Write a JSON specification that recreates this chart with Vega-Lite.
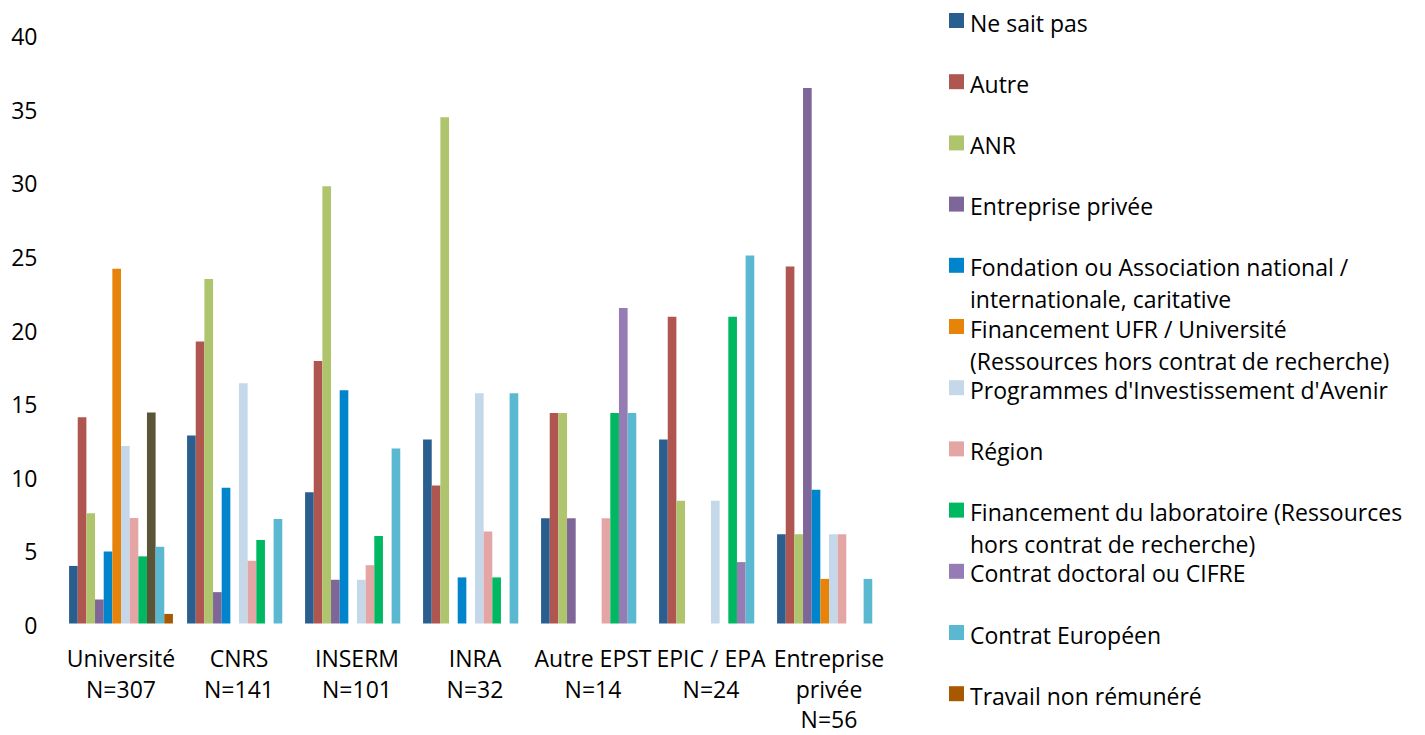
{
  "$schema": "https://vega.github.io/schema/vega-lite/v6.json",
  "width": 826,
  "height": 589,
  "autosize": {"type": "none"},
  "padding": {"left": 62, "top": 34.5, "right": 537, "bottom": 111.5},
  "background": "white",
  "config": {"view": {"stroke": null}, "font": "Open Sans"},
  "data": {
    "values": [
      {"cat": "Université N=307", "series": "Ne sait pas", "value": 3.91},
      {"cat": "Université N=307", "series": "Autre", "value": 14.01},
      {"cat": "Université N=307", "series": "ANR", "value": 7.49},
      {"cat": "Université N=307", "series": "Entreprise privée", "value": 1.63},
      {"cat": "Université N=307", "series": "Fondation ou Association national / internationale, caritative", "value": 4.89},
      {"cat": "Université N=307", "series": "Financement UFR / Université (Ressources hors contrat de recherche)", "value": 24.1},
      {"cat": "Université N=307", "series": "Programmes d'Investissement d'Avenir", "value": 12.05},
      {"cat": "Université N=307", "series": "Région", "value": 7.17},
      {"cat": "Université N=307", "series": "Financement du laboratoire (Ressources hors contrat de recherche)", "value": 4.56},
      {"cat": "Université N=307", "series": "Contrat doctoral ou CIFRE", "value": 14.33},
      {"cat": "Université N=307", "series": "Contrat Européen", "value": 5.21},
      {"cat": "Université N=307", "series": "Travail non rémunéré", "value": 0.65},
      {"cat": "CNRS N=141", "series": "Ne sait pas", "value": 12.77},
      {"cat": "CNRS N=141", "series": "Autre", "value": 19.15},
      {"cat": "CNRS N=141", "series": "ANR", "value": 23.4},
      {"cat": "CNRS N=141", "series": "Entreprise privée", "value": 2.13},
      {"cat": "CNRS N=141", "series": "Fondation ou Association national / internationale, caritative", "value": 9.22},
      {"cat": "CNRS N=141", "series": "Programmes d'Investissement d'Avenir", "value": 16.31},
      {"cat": "CNRS N=141", "series": "Région", "value": 4.26},
      {"cat": "CNRS N=141", "series": "Financement du laboratoire (Ressources hors contrat de recherche)", "value": 5.67},
      {"cat": "CNRS N=141", "series": "Contrat Européen", "value": 7.09},
      {"cat": "INSERM N=101", "series": "Ne sait pas", "value": 8.91},
      {"cat": "INSERM N=101", "series": "Autre", "value": 17.82},
      {"cat": "INSERM N=101", "series": "ANR", "value": 29.7},
      {"cat": "INSERM N=101", "series": "Entreprise privée", "value": 2.97},
      {"cat": "INSERM N=101", "series": "Fondation ou Association national / internationale, caritative", "value": 15.84},
      {"cat": "INSERM N=101", "series": "Programmes d'Investissement d'Avenir", "value": 2.97},
      {"cat": "INSERM N=101", "series": "Région", "value": 3.96},
      {"cat": "INSERM N=101", "series": "Financement du laboratoire (Ressources hors contrat de recherche)", "value": 5.94},
      {"cat": "INSERM N=101", "series": "Contrat Européen", "value": 11.88},
      {"cat": "INRA N=32", "series": "Ne sait pas", "value": 12.5},
      {"cat": "INRA N=32", "series": "Autre", "value": 9.38},
      {"cat": "INRA N=32", "series": "ANR", "value": 34.38},
      {"cat": "INRA N=32", "series": "Fondation ou Association national / internationale, caritative", "value": 3.13},
      {"cat": "INRA N=32", "series": "Programmes d'Investissement d'Avenir", "value": 15.63},
      {"cat": "INRA N=32", "series": "Région", "value": 6.25},
      {"cat": "INRA N=32", "series": "Financement du laboratoire (Ressources hors contrat de recherche)", "value": 3.13},
      {"cat": "INRA N=32", "series": "Contrat Européen", "value": 15.63},
      {"cat": "Autre EPST N=14", "series": "Ne sait pas", "value": 7.14},
      {"cat": "Autre EPST N=14", "series": "Autre", "value": 14.29},
      {"cat": "Autre EPST N=14", "series": "ANR", "value": 14.29},
      {"cat": "Autre EPST N=14", "series": "Entreprise privée", "value": 7.14},
      {"cat": "Autre EPST N=14", "series": "Région", "value": 7.14},
      {"cat": "Autre EPST N=14", "series": "Financement du laboratoire (Ressources hors contrat de recherche)", "value": 14.29},
      {"cat": "Autre EPST N=14", "series": "Contrat doctoral ou CIFRE", "value": 21.43},
      {"cat": "Autre EPST N=14", "series": "Contrat Européen", "value": 14.29},
      {"cat": "EPIC / EPA N=24", "series": "Ne sait pas", "value": 12.5},
      {"cat": "EPIC / EPA N=24", "series": "Autre", "value": 20.83},
      {"cat": "EPIC / EPA N=24", "series": "ANR", "value": 8.33},
      {"cat": "EPIC / EPA N=24", "series": "Programmes d'Investissement d'Avenir", "value": 8.33},
      {"cat": "EPIC / EPA N=24", "series": "Financement du laboratoire (Ressources hors contrat de recherche)", "value": 20.83},
      {"cat": "EPIC / EPA N=24", "series": "Contrat doctoral ou CIFRE", "value": 4.17},
      {"cat": "EPIC / EPA N=24", "series": "Contrat Européen", "value": 25.0},
      {"cat": "Entreprise privée N=56", "series": "Ne sait pas", "value": 6.06},
      {"cat": "Entreprise privée N=56", "series": "Autre", "value": 24.24},
      {"cat": "Entreprise privée N=56", "series": "ANR", "value": 6.06},
      {"cat": "Entreprise privée N=56", "series": "Entreprise privée", "value": 36.36},
      {"cat": "Entreprise privée N=56", "series": "Fondation ou Association national / internationale, caritative", "value": 9.09},
      {"cat": "Entreprise privée N=56", "series": "Financement UFR / Université (Ressources hors contrat de recherche)", "value": 3.03},
      {"cat": "Entreprise privée N=56", "series": "Programmes d'Investissement d'Avenir", "value": 6.06},
      {"cat": "Entreprise privée N=56", "series": "Région", "value": 6.06},
      {"cat": "Entreprise privée N=56", "series": "Contrat Européen", "value": 3.03}
    ]
  },
  "mark": {"type": "bar"},
  "encoding": {
    "x": {
      "field": "cat",
      "type": "nominal",
      "sort": ["Université N=307", "CNRS N=141", "INSERM N=101", "INRA N=32", "Autre EPST N=14", "EPIC / EPA N=24", "Entreprise privée N=56"],
      "scale": {"paddingInner": 0.12, "paddingOuter": 0.06},
      "axis": {
        "title": null,
        "domain": false,
        "ticks": false,
        "tickSize": 0,
        "labelAngle": 0,
        "labelFontSize": 23,
        "labelColor": "#000000",
        "labelPadding": 25,
        "labelBaseline": "top",
        "labelLineHeight": 30.5,
        "labelOverlap": false,
        "labelLimit": 400,
        "labelBound": false,
        "labelExpr": "datum.label == 'Entreprise privée N=56' ? ['Entreprise', 'privée', 'N=56'] : split(replace(datum.label, ' N=', '|N='), '|')"
      }
    },
    "xOffset": {
      "field": "series",
      "type": "nominal",
      "scale": {
        "domain": ["Ne sait pas", "Autre", "ANR", "Entreprise privée", "Fondation ou Association national / internationale, caritative", "Financement UFR / Université (Ressources hors contrat de recherche)", "Programmes d'Investissement d'Avenir", "Région", "Financement du laboratoire (Ressources hors contrat de recherche)", "Contrat doctoral ou CIFRE", "Contrat Européen", "Travail non rémunéré"],
        "paddingInner": 0,
        "paddingOuter": 0
      }
    },
    "y": {
      "field": "value",
      "type": "quantitative",
      "scale": {"domain": [0, 40], "nice": false},
      "axis": {
        "title": null,
        "values": [0, 5, 10, 15, 20, 25, 30, 35, 40],
        "grid": false,
        "domain": false,
        "ticks": false,
        "tickSize": 0,
        "labelPadding": 25,
        "labelOffset": 3,
        "labelFontSize": 23,
        "labelColor": "#000000"
      }
    },
    "color": {
      "condition": {"test": "datum.cat === 'Université N=307' && datum.series === 'Contrat doctoral ou CIFRE'", "value": "#5B5538"},
      "field": "series",
      "type": "nominal",
      "scale": {
        "domain": ["Ne sait pas", "Autre", "ANR", "Entreprise privée", "Fondation ou Association national / internationale, caritative", "Financement UFR / Université (Ressources hors contrat de recherche)", "Programmes d'Investissement d'Avenir", "Région", "Financement du laboratoire (Ressources hors contrat de recherche)", "Contrat doctoral ou CIFRE", "Contrat Européen", "Travail non rémunéré"],
        "range": ["#295E8E", "#B05650", "#AEC56E", "#7E6699", "#0085CC", "#E8830A", "#C5D8EA", "#E3A6A4", "#00B862", "#967CB4", "#5AB9D0", "#A85800"]
      },
      "legend": {
        "orient": "none",
        "direction": "vertical",
        "legendX": 883,
        "legendY": -25.5,
        "title": null,
        "padding": 0,
        "symbolType": "square",
        "symbolSize": 225,
        "symbolStrokeWidth": 0,
        "symbolOpacity": 1,
        "labelFontSize": 23,
        "labelColor": "#000000",
        "labelLimit": 600,
        "labelOffset": 2,
        "labelBaseline": "top",
        "rowPadding": 1.2,
        "encode": {"labels": {"update": {"dy": {"value": -7}, "lineHeight": {"value": 32}}}},
        "labelExpr": "datum.label == 'Fondation ou Association national / internationale, caritative' ? ['Fondation ou Association national /', 'internationale, caritative'] : datum.label == 'Financement UFR / Université (Ressources hors contrat de recherche)' ? ['Financement UFR / Université', '(Ressources hors contrat de recherche)'] : datum.label == 'Financement du laboratoire (Ressources hors contrat de recherche)' ? ['Financement du laboratoire (Ressources', 'hors contrat de recherche)'] : [datum.label, ' ']"
      }
    }
  }
}
